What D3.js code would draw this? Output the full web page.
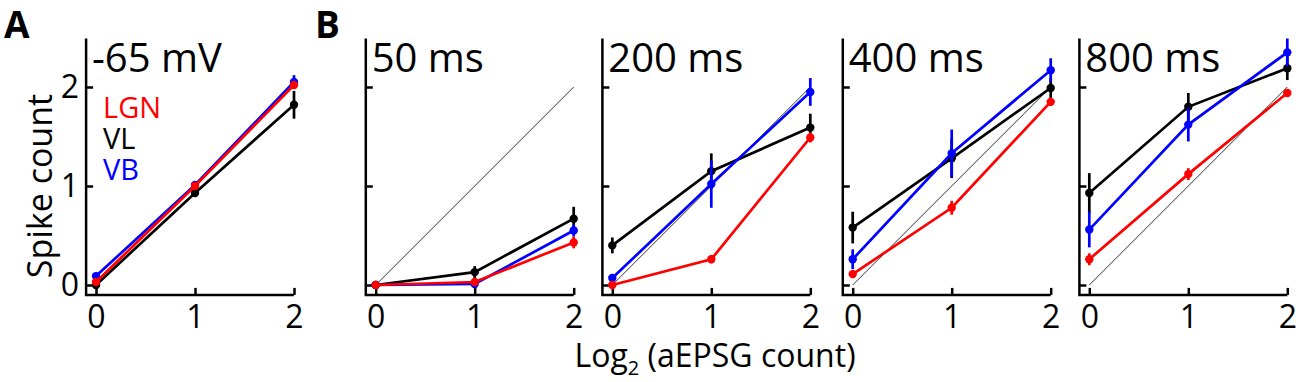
<!DOCTYPE html>
<html>
<head>
<meta charset="utf-8">
<script src="https://cdn.jsdelivr.net/npm/d3@7"></script>
<style>
  body { margin: 0; background: #fff; }
  text { font-family: "Open Sans", "Noto Sans", sans-serif; }
</style>
</head>
<body>
<div id="chart"></div>
<script>
// data: x = log2(aEPSG count), one row per panel
var xValues = [0, 1, 2];
var panelTitles = ['-65 mV', '50 ms', '200 ms', '400 ms', '800 ms'];

var lgnMean = [[0.03, 1.00, 2.02], [0.00, 0.03, 0.43], [0.00, 0.26, 1.49], [0.11, 0.78, 1.85], [0.26, 1.12, 1.94]];
var lgnErr  = [[0.02, 0.03, 0.04], [0.02, 0.03, 0.06], [0.02, 0.04, 0.05], [0.04, 0.07, 0.04], [0.06, 0.06, 0.03]];
var vlMean  = [[0.00, 0.93, 1.82], [0.00, 0.13, 0.67], [0.40, 1.15, 1.59], [0.58, 1.28, 1.99], [0.93, 1.80, 2.19]];
var vlErr   = [[0.03, 0.04, 0.14], [0.02, 0.06, 0.12], [0.08, 0.18, 0.14], [0.16, 0.20, 0.10], [0.20, 0.14, 0.12]];
var vbMean  = [[0.09, 1.01, 2.05], [0.00, 0.01, 0.55], [0.07, 1.02, 1.95], [0.26, 1.33, 2.17], [0.56, 1.62, 2.35]];
var vbErr   = [[0.02, 0.03, 0.07], [0.01, 0.02, 0.06], [0.04, 0.24, 0.14], [0.10, 0.24, 0.12], [0.18, 0.17, 0.14]];

var yTicks = [0, 1, 2];
var legendNames = ['LGN', 'VL', 'VB'];

// layout
var svgWidth = 1300, svgHeight = 382;
var panelX0 = [96, 375.7, 612.3, 852.7, 1089.3]; // pixel of x = 0 in each panel
var unit = 99;
var series = [
  {name: 'VL', color: '#000000', mean: vlMean, err: vlErr},
  {name: 'VB', color: '#0000ff', mean: vbMean, err: vbErr},
  {name: 'LGN', color: '#ff0000', mean: lgnMean, err: lgnErr}
];
var legendColors = {LGN: '#ff0000', VL: '#000000', VB: '#0000ff'};

var svg = d3.select('#chart').append('svg')
    .attr('width', svgWidth).attr('height', svgHeight);

var y = d3.scaleLinear().domain([0, 2]).range([285, 87]);

panelTitles.forEach(function(title, p) {
    var x = d3.scaleLinear().domain([0, 2]).range([panelX0[p], panelX0[p] + 2 * unit]);
    var g = svg.append('g');
    var axisX = x(-0.1), axisY = y(-0.1);

    // y axis
    var yAxis = d3.axisLeft(y).tickValues(yTicks).tickSizeInner(-7).tickSizeOuter(0)
        .tickFormat(p === 0 ? d3.format('d') : function() { return ''; });
    var ya = g.append('g').attr('transform', 'translate(' + axisX + ',0)').call(yAxis);
    ya.select('.domain').remove();
    ya.selectAll('.tick line').attr('stroke', '#000').attr('stroke-width', 2.5);
    ya.selectAll('.tick text').attr('x', -7).attr('font-size', 32)
        .attr('font-family', '"Open Sans", sans-serif').attr('fill', '#000');

    // x axis
    var xAxis = d3.axisBottom(x).tickValues(xValues).tickSizeInner(-7).tickSizeOuter(0)
        .tickFormat(d3.format('d'));
    var xa = g.append('g').attr('transform', 'translate(0,' + axisY + ')').call(xAxis);
    xa.select('.domain').remove();
    xa.selectAll('.tick line').attr('stroke', '#000').attr('stroke-width', 2.5);
    xa.selectAll('.tick text').attr('y', 6).attr('dy', '0.85em').attr('font-size', 32)
        .attr('font-family', '"Open Sans", sans-serif').attr('fill', '#000');

    // axis lines
    g.append('path')
        .attr('d', 'M' + axisX + ',' + y(2.49) + 'V' + axisY + 'H' + x(2))
        .attr('fill', 'none').attr('stroke', '#000').attr('stroke-width', 2.5);

    // unity line for B panels
    if (p > 0) {
        g.append('line')
            .attr('x1', x(0)).attr('y1', y(0)).attr('x2', x(2)).attr('y2', y(2))
            .attr('stroke', '#000').attr('stroke-width', 0.8);
    }

    var line = d3.line()
        .x(function(d, i) { return x(xValues[i]); })
        .y(function(d) { return y(d); });

    series.forEach(function(s) {
        var m = s.mean[p], e = s.err[p];
        g.append('path').attr('d', line(m))
            .attr('fill', 'none').attr('stroke', s.color).attr('stroke-width', 2.7);
        g.selectAll(null).data(m).enter().append('line')
            .attr('x1', function(d, i) { return x(xValues[i]); })
            .attr('x2', function(d, i) { return x(xValues[i]); })
            .attr('y1', function(d, i) { return y(d - e[i]); })
            .attr('y2', function(d, i) { return y(d + e[i]); })
            .attr('stroke', s.color).attr('stroke-width', 2.7);
        g.selectAll(null).data(m).enter().append('circle')
            .attr('cx', function(d, i) { return x(xValues[i]); })
            .attr('cy', function(d) { return y(d); })
            .attr('r', 4.2).attr('fill', s.color);
    });

    // panel title
    g.append('text').attr('x', x(0) - 4).attr('y', 72)
        .attr('font-size', 40).attr('fill', '#000').text(title);
});

// legend in panel A
legendNames.forEach(function(n, i) {
    svg.append('text').attr('x', 103).attr('y', 118 + i * 31)
        .attr('font-size', 29).attr('fill', legendColors[n]).text(n);
});

// y label
svg.append('text')
    .attr('transform', 'translate(52,' + y(1) + ') rotate(-90)')
    .attr('text-anchor', 'middle').attr('font-size', 34).text('Spike count');

// x label
var xl = svg.append('text').attr('x', 715).attr('y', 367)
    .attr('text-anchor', 'middle').attr('font-size', 32);
xl.append('tspan').text('Log');
xl.append('tspan').attr('font-size', 20).attr('dy', 8).text('2');
xl.append('tspan').attr('dy', -8).text(' (aEPSG count)');

// panel letters
svg.append('text').attr('x', 4).attr('y', 38)
    .attr('font-family', 'Arial, "Liberation Sans", sans-serif')
    .attr('font-weight', 'bold').attr('font-size', 37).text('A');
svg.append('text').attr('x', 315).attr('y', 38)
    .attr('font-family', 'Arial, "Liberation Sans", sans-serif')
    .attr('font-weight', 'bold').attr('font-size', 37).text('B');
</script>
</body>
</html>
